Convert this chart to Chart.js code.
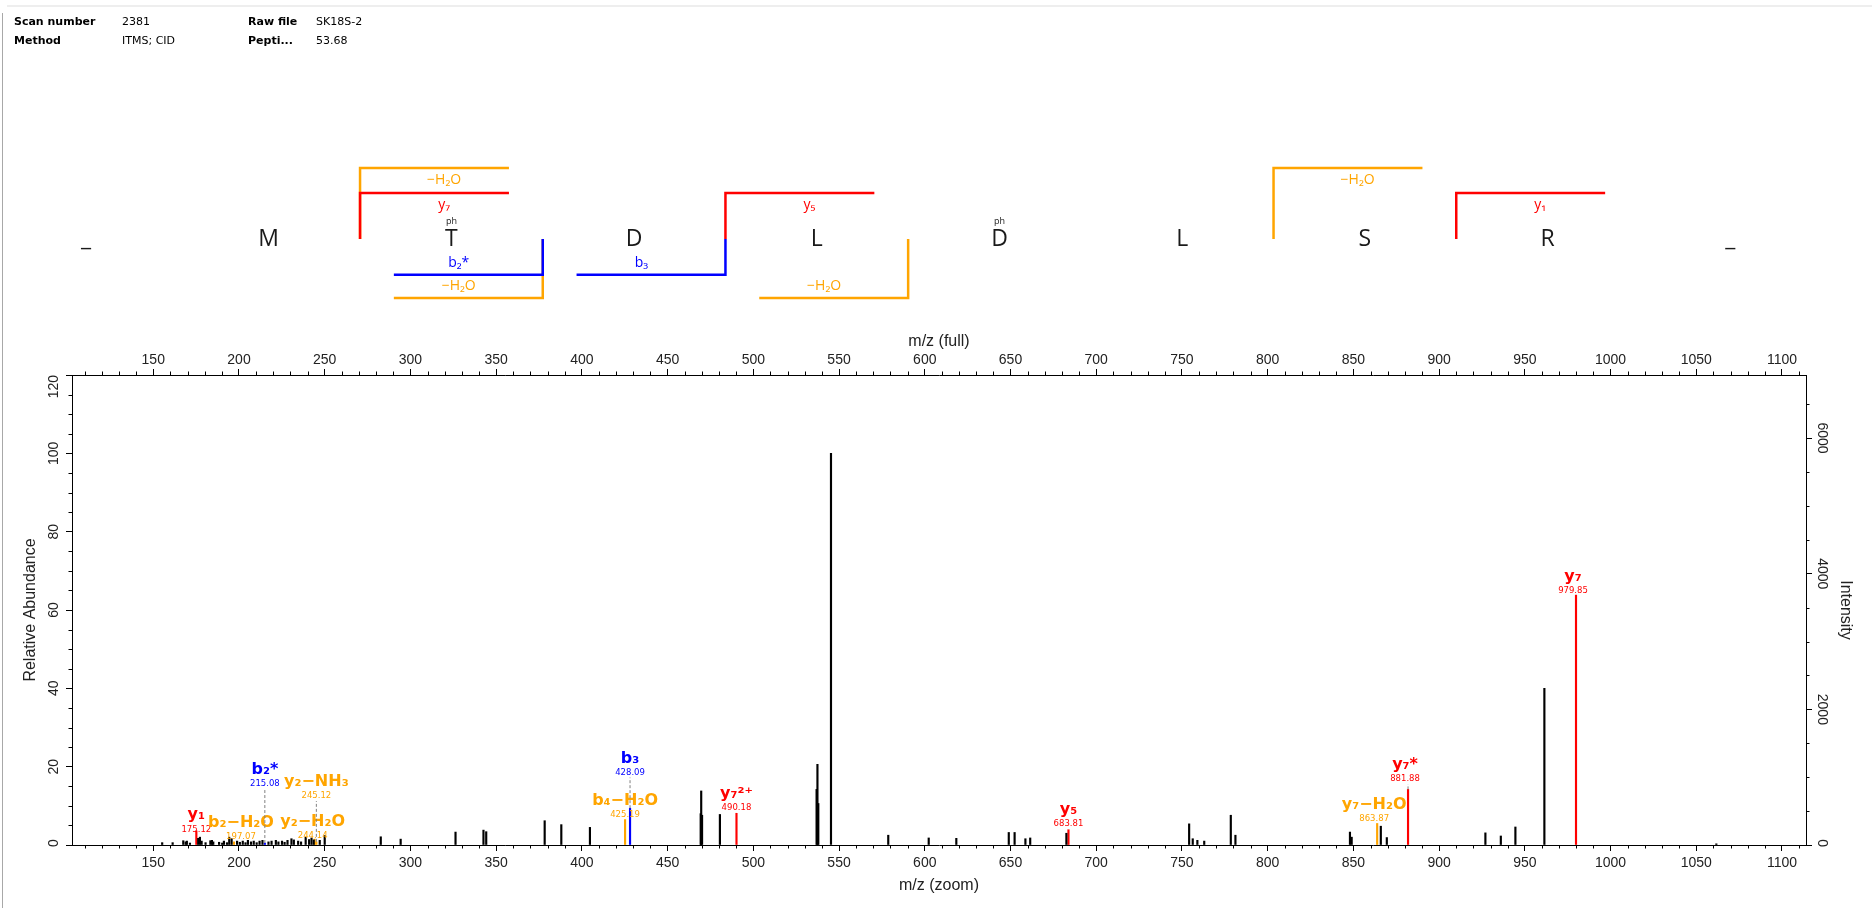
<!DOCTYPE html>
<html>
<head>
<meta charset="utf-8">
<script src="https://cdn.jsdelivr.net/npm/chart.js@4.4.1/dist/chart.umd.min.js"></script>
<style>
html, body { margin: 0; padding: 0; background: #fff; }
body { width: 1872px; height: 908px; position: relative; overflow: hidden; font-family: "DejaVu Sans", sans-serif; }
#spectrum { position: absolute; left: 0; top: 0; z-index: 0; }
.hd { position: absolute; font-size: 11px; line-height: 13px; color: #000; white-space: nowrap; z-index: 1; }
.b { font-weight: bold; }
#edge { position: absolute; left: 2px; top: 13px; width: 1px; height: 895px; background: #a8a8a8; z-index: 1; }
#band { position: absolute; left: 7px; top: 5px; right: 0; height: 2px; background: #eeeeee; z-index: 1; }
</style>
</head>
<body>
<div id="band"></div>
<div id="edge"></div>
<div class="hd b" style="left:14px;top:15px">Scan number</div>
<div class="hd" style="left:122px;top:15px">2381</div>
<div class="hd b" style="left:248px;top:15px">Raw file</div>
<div class="hd" style="left:316px;top:15px">SK18S-2</div>
<div class="hd b" style="left:14px;top:34px">Method</div>
<div class="hd" style="left:122px;top:34px">ITMS; CID</div>
<div class="hd b" style="left:248px;top:34px">Pepti...</div>
<div class="hd" style="left:316px;top:34px">53.68</div>
<canvas id="spectrum" width="1872" height="908"></canvas>
<script>
// axis ranges and tick labels
const mzRange = [102.6, 1114];
const mzTicks = [150, 200, 250, 300, 350, 400, 450, 500, 550, 600, 650, 700, 750, 800, 850, 900, 950, 1000, 1050, 1100];
const relMax = 120;
const relTicks = [0, 20, 40, 60, 80, 100, 120];
const intMax = 6930;
const intTicks = [0, 2000, 4000, 6000];

// unassigned peaks: m/z and relative abundance (%)
const peakMz = [
  155.2, 161.3, 167.5, 168.9, 169.6, 171.4, 176.2, 177.2, 178.2, 180.5,
  183.3, 184.2, 185.0, 188.4, 190.2, 191.2, 193.0, 194.3, 195.7, 198.9,
  200.5, 202.2, 203.8, 205.2, 207.0, 208.6, 210.3, 212.0, 213.7, 217.2,
  219.0, 221.5, 223.0, 225.1, 226.6, 228.3, 230.6, 232.0, 234.5, 236.2,
  238.9, 240.9, 242.3, 243.6, 247.1, 250.0, 282.7, 294.3, 326.3, 342.6,
  344.2, 378.3, 388.0, 404.7, 469.3, 469.6, 470.1, 480.5, 536.9, 537.4,
  537.9, 545.3, 578.7, 602.3, 618.4, 649.0, 652.4, 658.7, 661.5, 682.6,
  754.2, 756.3, 759.0, 763.0, 778.5, 781.2, 848.0, 849.0, 866.0, 869.5,
  927.0, 936.0, 944.5, 961.4, 1061.7
];
const peakRel = [
  0.6, 0.6, 1.1, 0.8, 1.0, 0.5, 1.7, 2.0, 1.0, 0.6,
  1.1, 1.2, 0.8, 0.7, 0.5, 1.0, 0.6, 2.0, 1.6, 1.0,
  0.7, 1.0, 0.6, 1.2, 0.8, 1.0, 0.6, 1.0, 1.2, 0.8,
  1.0, 1.2, 0.8, 1.0, 0.7, 1.2, 1.6, 1.3, 1.0, 0.8,
  2.0, 1.4, 1.8, 1.3, 1.2, 2.4, 2.1, 1.5, 3.3, 3.8,
  3.4, 6.2, 5.2, 4.5, 8.0, 13.8, 7.6, 7.8, 14.2, 20.6,
  10.6, 100, 2.5, 1.8, 1.7, 3.2, 3.2, 1.6, 1.8, 3.0,
  5.4, 1.6, 1.2, 1.0, 7.6, 2.5, 3.3, 2.0, 4.8, 1.9,
  3.1, 2.3, 4.6, 40.0, 0.3
];

// assigned fragment ions
const ionNames = ['y₁', 'b₂−H₂O', 'b₂*', 'y₂−H₂O', 'y₂−NH₃', 'b₄−H₂O', 'b₃', 'y₇²⁺', 'y₅', 'y₇−H₂O', 'y₇*', 'y₇'];
const ionMz    = [175.12, 197.07, 215.08, 244.14, 245.12, 425.19, 428.09, 490.18, 683.81, 863.87, 881.88, 979.85];
const ionRel   = [3.6, 0.8, 0.5, 1.5, 0.8, 6.5, 9.4, 8.1, 3.9, 5.5, 14.2, 63.8];
const ionType  = ['y', 'loss', 'b', 'loss', 'loss', 'loss', 'b', 'y', 'y', 'loss', 'y', 'y'];

// peptide sequence and fragment coverage
const residues = ['_', 'M', 'T', 'D', 'L', 'D', 'L', 'S', 'R', '_'];
const phospho = [2, 5];
const yFragments = [
  { cut: 1, row: 0, label: '−H₂O', type: 'loss' },
  { cut: 1, row: 1, label: 'y₇', type: 'y' },
  { cut: 3, row: 1, label: 'y₅', type: 'y' },
  { cut: 6, row: 0, label: '−H₂O', type: 'loss' },
  { cut: 7, row: 1, label: 'y₁', type: 'y' }
];
const bFragments = [
  { cut: 2, row: 1, label: '−H₂O', type: 'loss' },
  { cut: 2, row: 0, label: 'b₂*', type: 'b' },
  { cut: 3, row: 0, label: 'b₃', type: 'b' },
  { cut: 4, row: 1, label: '−H₂O', type: 'loss' }
];

// label layout (not data): m/z text height in % units, x nudge in px, leader line
const ionLabelRel = [4.0, 2.0, 15.5, 2.3, 12.5, 7.7, 18.5, 9.4, 5.4, 6.7, 16.8, 64.8];
const ionLabelDx  = [0, 7, 0, -2, 0, 0, 0, 0, 0, -3, -3, -3];
const ionDashed   = [false, false, true, false, true, false, true, false, false, false, true, false];

const colors = { y: '#ff0000', b: '#0000ff', loss: '#ffa500' };
const tickFont = { family: 'Liberation Sans', size: 14 };
const titleFont = { family: 'Liberation Sans', size: 16 };

function bars(xs, ys, color) {
  return {
    type: 'bar',
    data: xs.map((m, i) => ({ x: m, y: ys[i] })),
    backgroundColor: color,
    borderWidth: 0,
    grouped: false,
    barThickness: 1.5,
    xAxisID: 'xz',
    yAxisID: 'y'
  };
}

function pick(type) {
  const idx = ionType.map((t, i) => t === type ? i : -1).filter(i => i >= 0);
  return [idx.map(i => ionMz[i]), idx.map(i => ionRel[i])];
}

// ion names and m/z values above the peaks
const spectrumLabels = {
  id: 'spectrumLabels',
  afterDatasetsDraw(chart) {
    const ctx = chart.ctx;
    const xs = chart.scales.xz, ys = chart.scales.y;
    ctx.save();
    ctx.textAlign = 'center';
    ctx.textBaseline = 'middle';
    ionNames.forEach((name, i) => {
      const px = xs.getPixelForValue(ionMz[i]);
      const top = ys.getPixelForValue(ionRel[i]);
      const lx = px + ionLabelDx[i];
      const vy = ys.getPixelForValue(ionLabelRel[i]);
      if (ionDashed[i]) {
        ctx.strokeStyle = '#808080';
        ctx.lineWidth = 1;
        ctx.setLineDash([3, 2]);
        ctx.beginPath();
        ctx.moveTo(px, top);
        ctx.lineTo(px, vy + 5);
        ctx.stroke();
        ctx.setLineDash([]);
      }
      ctx.fillStyle = colors[ionType[i]];
      ctx.font = '8.5px "DejaVu Sans"';
      ctx.fillText(ionMz[i].toFixed(2), lx, vy);
      ctx.font = 'bold 16px "DejaVu Sans"';
      ctx.fillText(name, lx, vy - 14);
    });
    ctx.restore();
  }
};

// sequence with fragment brackets above the plot
const peptide = {
  id: 'peptide',
  afterDraw(chart) {
    const ctx = chart.ctx;
    const x0 = 86, step = 182.7, joint = 239, base = 246;
    const topRows = [168, 193], botRows = [274.7, 298];
    const arm = step * 0.815, lab = step * 0.46;
    ctx.save();
    ctx.lineWidth = 2.5;
    ctx.textAlign = 'center';
    ctx.textBaseline = 'middle';
    ctx.font = '14px "Open Sans"';
    yFragments.forEach(f => {
      const bx = x0 + step * (f.cut + 0.5), ly = topRows[f.row];
      ctx.strokeStyle = colors[f.type];
      ctx.beginPath();
      ctx.moveTo(bx, joint);
      ctx.lineTo(bx, ly);
      ctx.lineTo(bx + arm, ly);
      ctx.stroke();
      ctx.fillStyle = colors[f.type];
      ctx.fillText(f.label, bx + lab, ly + 12);
    });
    bFragments.forEach(f => {
      const bx = x0 + step * (f.cut + 0.5), ly = botRows[f.row];
      ctx.strokeStyle = colors[f.type];
      ctx.beginPath();
      ctx.moveTo(bx - arm, ly);
      ctx.lineTo(bx, ly);
      ctx.lineTo(bx, joint);
      ctx.stroke();
      ctx.fillStyle = colors[f.type];
      ctx.fillText(f.label, bx - lab, ly - 12);
    });
    ctx.fillStyle = '#1a1a1a';
    ctx.textBaseline = 'alphabetic';
    ctx.font = '23px "Open Sans"';
    residues.forEach((r, i) => ctx.fillText(r, x0 + step * i, base));
    ctx.font = '9px "Open Sans"';
    ctx.textBaseline = 'middle';
    phospho.forEach(i => ctx.fillText('ph', x0 + step * i, 221));
    ctx.restore();
  }
};

// rotated y tick labels and the minor tick marks
const sideAxes = {
  id: 'sideAxes',
  afterDraw(chart) {
    const { ctx, chartArea } = chart;
    const sc = chart.scales;
    ctx.save();
    ctx.font = '14px "Liberation Sans"';
    ctx.fillStyle = '#222';
    ctx.textAlign = 'center';
    ctx.textBaseline = 'middle';
    const put = (scale, values, x, rot) => {
      values.forEach(v => {
        const t = String(v), half = ctx.measureText(t).width / 2;
        let y = scale.getPixelForValue(v);
        y = Math.min(Math.max(y, chartArea.top + half), chartArea.bottom + 2 - half);
        ctx.save();
        ctx.translate(x, y);
        ctx.rotate(rot);
        ctx.fillText(t, 0, 0);
        ctx.restore();
      });
    };
    put(sc.y, relTicks, sc.y.right - 18, -Math.PI / 2);
    put(sc.y2, intTicks, sc.y2.left + 16, Math.PI / 2);

    ctx.strokeStyle = '#000';
    ctx.lineWidth = 1;
    ctx.beginPath();
    for (let v = 110; v <= mzRange[1]; v += 10) {
      if (v % 50 === 0) continue;
      const x = Math.round(sc.xz.getPixelForValue(v)) + 0.5;
      ctx.moveTo(x, chartArea.bottom); ctx.lineTo(x, chartArea.bottom + 3.5);
      ctx.moveTo(x, chartArea.top); ctx.lineTo(x, chartArea.top - 3.5);
    }
    for (let v = 5; v < relMax; v += 5) {
      if (v % 20 === 0) continue;
      const y = Math.round(sc.y.getPixelForValue(v)) + 0.5;
      ctx.moveTo(chartArea.left, y); ctx.lineTo(chartArea.left - 3.5, y);
    }
    for (let v = 500; v < intMax; v += 500) {
      if (v % 2000 === 0) continue;
      const y = Math.round(sc.y2.getPixelForValue(v)) + 0.5;
      ctx.moveTo(chartArea.right, y); ctx.lineTo(chartArea.right + 3.5, y);
    }
    ctx.stroke();
    ctx.restore();
  }
};

const xAxis = (pos, title, height, pad) => ({
  type: 'linear',
  axis: 'x',
  position: pos,
  offset: false,
  min: mzRange[0],
  max: mzRange[1],
  afterBuildTicks: s => { s.ticks = mzTicks.map(v => ({ value: v })); },
  afterFit: s => { s.height = height; },
  grid: { drawOnChartArea: false, offset: false, tickLength: 6, color: '#000', lineWidth: 1 },
  border: { display: true, color: '#000', width: 1 },
  ticks: { color: '#222', font: tickFont, padding: pos === 'top' ? 0 : 4, autoSkip: false, maxRotation: 0, minRotation: 0, callback: v => String(v) },
  title: { display: true, text: title, color: '#222', font: titleFont, padding: pad }
});

const blackSet = bars(peakMz, peakRel, '#000');
const ySet = bars(...pick('y'), colors.y);
const bSet = bars(...pick('b'), colors.b);
const lossSet = bars(...pick('loss'), colors.loss);

new Chart(document.getElementById('spectrum'), {
  type: 'bar',
  data: { datasets: [blackSet, lossSet, bSet, ySet] },
  options: {
    responsive: false,
    animation: false,
    devicePixelRatio: 1,
    layout: { padding: { top: 320, left: 0, right: 0, bottom: 0 } },
    plugins: { legend: { display: false }, tooltip: { enabled: false } },
    scales: {
      xz: xAxis('bottom', 'm/z (zoom)', 63, { bottom: 13 }),
      xf: xAxis('top', 'm/z (full)', 55, { top: 12 }),
      y: {
        type: 'linear',
        position: 'left',
        min: 0,
        max: relMax,
        afterBuildTicks: s => { s.ticks = relTicks.map(v => ({ value: v })); },
        afterFit: s => { s.width = 72; },
        grid: { drawOnChartArea: false, tickLength: 6, color: '#000' },
        border: { display: true, color: '#000', width: 1 },
        ticks: { display: false },
        title: { display: true, text: 'Relative Abundance', color: '#222', font: titleFont, padding: { top: 21 } }
      },
      y2: {
        type: 'linear',
        position: 'right',
        min: 0,
        max: intMax,
        afterBuildTicks: s => { s.ticks = intTicks.map(v => ({ value: v })); },
        afterFit: s => { s.width = 66; },
        grid: { drawOnChartArea: false, tickLength: 6, color: '#000' },
        border: { display: true, color: '#000', width: 1 },
        ticks: { display: false },
        title: { display: true, text: 'Intensity', color: '#222', font: titleFont, padding: { top: 17 } }
      }
    }
  },
  plugins: [spectrumLabels, peptide, sideAxes]
});
</script>
</body>
</html>
